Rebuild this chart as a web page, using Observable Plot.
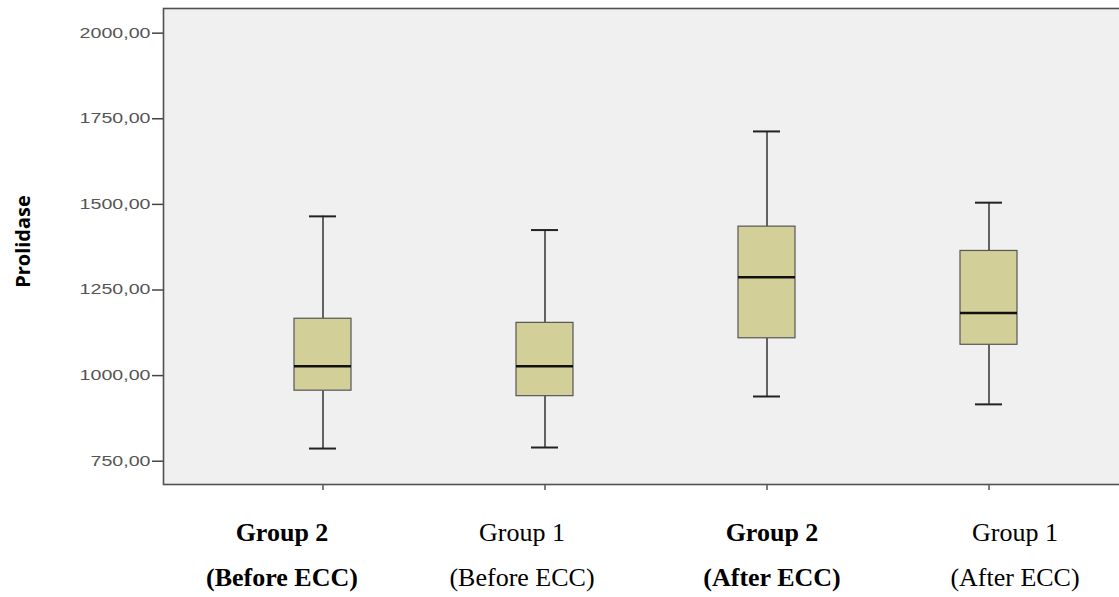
<!DOCTYPE html>
<html><head><meta charset="utf-8">
<script src="https://cdn.jsdelivr.net/npm/d3@7"></script>
<script src="https://cdn.jsdelivr.net/npm/@observablehq/plot@0.6"></script>
<style>html,body{margin:0;padding:0;background:#fff;overflow:hidden;} svg{max-width:none !important;}</style>
</head><body><div id="chart"></div>
<script>
// ---- data ----
const groups = ["G2 before", "G1 before", "G2 after", "G1 after"];
const labelLine1 = ["Group 2", "Group 1", "Group 2", "Group 1"];
const labelLine2 = ["(Before ECC)", "(Before ECC)", "(After ECC)", "(After ECC)"];
const boldLabel = [true, false, true, false];
const whiskerLow = [787, 790, 939, 916];
const q1 = [956, 940, 1109, 1090];
const median = [1027, 1027, 1287, 1183];
const q3 = [1166, 1154, 1435, 1364];
const whiskerHigh = [1465, 1425, 1713, 1505];
const yTicks = [750, 1000, 1250, 1500, 1750, 2000];
const yDomain = [682, 2072];
const yLabel = "Prolidase";

const rows = groups.map((g, i) => ({
  group: g, lo: whiskerLow[i], q1: q1[i], med: median[i], q3: q3[i], hi: whiskerHigh[i],
  label: labelLine1[i] + "\n" + labelLine2[i], bold: boldLabel[i]
}));
const fmt = d => d3.format(".2f")(d).replace(".", ",");

// layout: the category captions in the reference sit slightly off their ticks
const captionShift = [-41, -23, 5, 26];
const captionMarks = rows.map((r, i) => Plot.text([r], {
  x: "group", text: "label", frameAnchor: "bottom", lineAnchor: "top",
  dx: captionShift[i], dy: 25, fontSize: 26, fontWeight: r.bold ? "bold" : "normal",
  lineHeight: 1.73, fontFamily: "Liberation Serif, Times New Roman, serif", fill: "#000"
}));

const chart = Plot.plot({
  width: 1149, height: 597,
  marginTop: 8, marginBottom: 113, marginLeft: 163, marginRight: 0,
  style: {background: "transparent", overflow: "visible"},
  x: {type: "band", domain: groups, paddingInner: 0.743, paddingOuter: 0.592, axis: null},
  y: {domain: yDomain, axis: null},
  marks: [
    Plot.frame({fill: "#f0f0f0", stroke: "#505050", strokeWidth: 1.6}),
    Plot.ruleX(rows, {x: "group", y1: "lo", y2: "q1", stroke: "#333", strokeWidth: 1.5}),
    Plot.ruleX(rows, {x: "group", y1: "q3", y2: "hi", stroke: "#333", strokeWidth: 1.5}),
    Plot.tickY(rows, {x: "group", y: "lo", insetLeft: 15, insetRight: 15, stroke: "#222", strokeWidth: 2}),
    Plot.tickY(rows, {x: "group", y: "hi", insetLeft: 15, insetRight: 15, stroke: "#222", strokeWidth: 2}),
    Plot.barY(rows, {x: "group", y1: "q1", y2: "q3", fill: "#d3cf98", stroke: "#555", strokeWidth: 1.2}),
    Plot.tickY(rows, {x: "group", y: "med", stroke: "#111", strokeWidth: 2.5}),
    Plot.axisX({anchor: "bottom", tickSize: 6, tickFormat: () => "", label: null, color: "#555", strokeWidth: 1.5}),
    Plot.axisY({anchor: "left", ticks: yTicks, tickFormat: fmt, tickSize: 11, tickPadding: 2, label: null,
      fontSize: 14, color: "#555", stroke: "#444", fill: "#555", strokeWidth: 1.5,
      fontFamily: "Liberation Sans, Arial, sans-serif"}),
    ...captionMarks,
    Plot.text([yLabel], {text: d => d, frameAnchor: "left", textAnchor: "middle", rotate: -90, dx: -140, dy: -5,
      fontSize: 20, fontWeight: "bold", fontFamily: "Open Sans, sans-serif", fill: "#000"})
  ]
});
chart.style.maxWidth = "none";
document.getElementById("chart").appendChild(chart);

// stretch the y tick labels horizontally like the reference
d3.select(chart).selectAll("g[aria-label='y-axis tick label'] text").each(function() {
  const w = this.getComputedTextLength();
  this.setAttribute("textLength", (w * 1.4).toFixed(1));
  this.setAttribute("lengthAdjust", "spacingAndGlyphs");
});
</script>
</body></html>
